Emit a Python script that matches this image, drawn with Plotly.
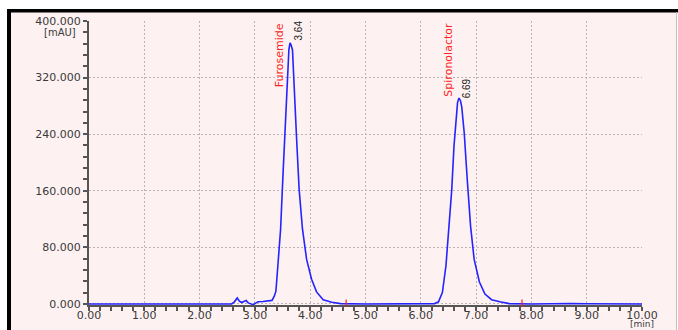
import plotly.graph_objects as go

# Chromatogram trace (time in min, absorbance in mAU)
time_min = [0.00, 1.00, 2.00, 2.58, 2.63, 2.68, 2.72, 2.76, 2.80, 2.84, 2.88, 2.92, 2.97, 3.02, 3.06,
            3.15, 3.25, 3.31, 3.35, 3.38, 3.42, 3.465, 3.51, 3.56, 3.59, 3.615, 3.635, 3.655,
            3.68, 3.71, 3.755, 3.80, 3.86, 3.935, 4.025, 4.115, 4.235, 4.39, 4.55,
            5.00, 5.50, 6.00, 6.25, 6.32, 6.39, 6.455, 6.515, 6.56, 6.60, 6.635, 6.665, 6.69,
            6.715, 6.74, 6.785, 6.84, 6.90, 6.965, 7.06, 7.16, 7.28, 7.43, 7.60,
            8.00, 8.40, 8.70, 9.00, 9.50, 10.00]
absorb_mau = [0.0, 0.0, 0.0, 0.0, 3.0, 8.5, 4.0, 2.0, 3.5, 5.0, 1.5, 0.3, -1.0, 1.5, 3.0,
              3.5, 4.0, 5.0, 11.0, 18.0, 59.0, 106.0, 186.0, 270.0, 331.0, 360.0, 369.0, 366.0,
              359.0, 303.0, 232.0, 162.0, 106.0, 63.0, 35.0, 17.0, 6.0, 2.5, 0.5,
              0.0, 0.0, 0.0, 0.5, 3.0, 16.0, 54.0, 110.0, 162.0, 223.0, 265.0, 285.0, 291.0,
              288.0, 279.0, 242.0, 176.0, 110.0, 63.0, 31.0, 14.0, 6.0, 3.0, 0.5,
              0.0, 0.6, 0.7, 0.3, 0.0, 0.0]

# Integration markers
marker_times = [4.65, 7.83]
marker_vals = [1.5, 1.5]

# Peak labels
peak_names = ["Furosemide", "Spironolactor"]
peak_rts = ["3.64", "6.69"]
name_pos_x = [3.46, 6.50]
name_pos_y = [352, 346]
rt_pos_x = [3.79, 6.82]
rt_pos_y = [386, 305]

x_ticks = [0, 1, 2, 3, 4, 5, 6, 7, 8, 9, 10]
x_tick_text = ["0.00", "1.00", "2.00", "3.00", "4.00", "5.00", "6.00", "7.00", "8.00", "9.00", "10.00"]
y_ticks = [0, 80, 160, 240, 320, 400]
y_tick_text = ["0.000", "80.000", "160.000", "240.000", "320.000", "400.000"]

W, H = 678, 330
L, R, T, B = 89, 36, 21, 25
PW, PH = W - L - R, H - T - B


def px(xp):
    return (xp - L) / PW


def py(yp):
    return (H - B - yp) / PH


BG = "#fdf2f1"
FONT = "DejaVu Sans"
GRID = "#bdb5b5"

fig = go.Figure()
fig.add_trace(go.Scatter(x=time_min, y=absorb_mau, mode="lines",
                         line=dict(color="#2424ff", width=1.6), hoverinfo="skip"))
fig.add_trace(go.Scatter(x=marker_times, y=marker_vals, mode="markers",
                         marker=dict(symbol="line-ns", size=5, line=dict(color="#ff2020", width=1.2)),
                         hoverinfo="skip", cliponaxis=False))

annotations = []
for i in range(len(peak_names)):
    annotations.append(dict(x=name_pos_x[i], y=name_pos_y[i], xref="x", yref="y",
                            text=peak_names[i], textangle=-90, showarrow=False,
                            xanchor="center", yanchor="middle",
                            font=dict(family=FONT, size=11, color="#ff2222")))
    annotations.append(dict(x=rt_pos_x[i], y=rt_pos_y[i], xref="x", yref="y",
                            text=peak_rts[i], textangle=-90, showarrow=False,
                            xanchor="center", yanchor="middle",
                            font=dict(family="Liberation Sans", size=10, color="#222222")))
annotations.append(dict(x=px(77), y=py(26), xref="paper", yref="paper", text="[mAU]",
                        showarrow=False, xanchor="right", yanchor="top", borderpad=0,
                        font=dict(family=FONT, size=10, color="#3a3a3a")))
annotations.append(dict(x=px(642), y=py(330), xref="paper", yref="paper", text="[min]",
                        showarrow=False, xanchor="center", yanchor="bottom", borderpad=0,
                        font=dict(family=FONT, size=9, color="#3a3a3a")))

shapes = [
    # pink panel inside frame
    dict(type="rect", xref="paper", yref="paper", x0=px(9), x1=px(677), y0=py(331), y1=py(11),
         fillcolor=BG, line=dict(width=0), layer="below"),
    # black frame top and left
    dict(type="line", xref="paper", yref="paper", x0=px(7), x1=px(678), y0=py(10.8), y1=py(10.8),
         line=dict(color="#000000", width=3.5)),
    dict(type="line", xref="paper", yref="paper", x0=px(9), x1=px(9), y0=py(9), y1=py(331),
         line=dict(color="#000000", width=4)),
    # thin grey right edge
    dict(type="line", xref="paper", yref="paper", x0=px(676.5), x1=px(676.5), y0=py(12), y1=py(331),
         line=dict(color="#c8c0c0", width=1)),
]

fig.update_layout(
    width=W, height=H,
    margin=dict(l=L, r=R, t=T, b=B),
    paper_bgcolor="#ffffff",
    plot_bgcolor=BG,
    showlegend=False,
    annotations=annotations,
    shapes=shapes,
    font=dict(family=FONT, size=11, color="#3a3a3a"),
)
fig.update_xaxes(range=[0, 10], tickvals=x_ticks, ticktext=x_tick_text,
                 showline=True, linecolor="#555555", linewidth=2,
                 ticks="outside", ticklen=4, tickwidth=1.5, tickcolor="#555555",
                 minor=dict(dtick=0.2, ticks="outside", ticklen=4, tickwidth=1.5,
                            tickcolor="#555555", showgrid=False),
                 showgrid=True, gridcolor=GRID, griddash="2px,2px", gridwidth=1,
                 zeroline=False, layer="below traces", automargin=False,
                 ticklabelstandoff=-5,
                 tickfont=dict(family=FONT, size=11, color="#3a3a3a"))
fig.update_yaxes(range=[-1.5, 400], tickvals=y_ticks, ticktext=y_tick_text,
                 showline=True, linecolor="#555555", linewidth=2,
                 ticks="outside", ticklen=4, tickwidth=1.5, tickcolor="#555555",
                 minor=dict(dtick=16, tick0=0, ticks="outside", ticklen=4, tickwidth=1.5,
                            tickcolor="#555555", showgrid=False),
                 showgrid=True, gridcolor=GRID, griddash="2px,2px", gridwidth=1,
                 zeroline=False, layer="below traces", automargin=False,
                 tickfont=dict(family=FONT, size=11, color="#3a3a3a"))

fig.write_html("out.html", post_script="document.body.style.margin='0';",
               config={"displayModeBar": False})
